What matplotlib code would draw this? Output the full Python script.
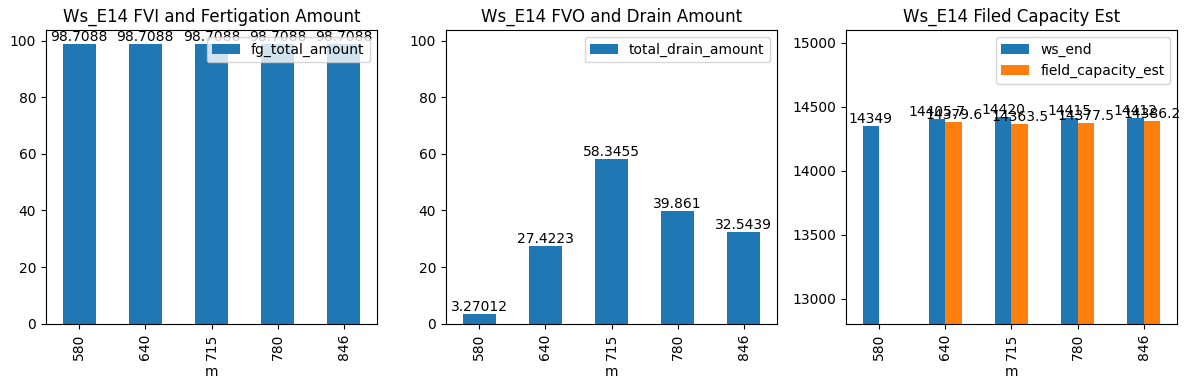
import numpy as np
import pandas as pd
import matplotlib.pyplot as plt

# data
m = [580, 640, 715, 780, 846]
fg_total_amount = [98.7088, 98.7088, 98.7088, 98.7088, 98.7088]
total_drain_amount = [3.27012, 27.4223, 58.3455, 39.861, 32.5439]
ws_end = [14349, 14405.7, 14420, 14415, 14412]
field_capacity_est = [np.nan, 14379.6, 14363.5, 14377.5, 14386.2]


def main():
    df_fg = pd.DataFrame({"fg_total_amount": fg_total_amount}, index=pd.Index(m, name="m"))
    df_dr = pd.DataFrame({"total_drain_amount": total_drain_amount}, index=pd.Index(m, name="m"))
    df_ws = pd.DataFrame({"ws_end": ws_end, "field_capacity_est": field_capacity_est},
                         index=pd.Index(m, name="m"))

    fig, axes = plt.subplots(1, 3, figsize=(11.89, 3.9), dpi=100)

    # 1) fertigation
    ax = axes[0]
    df_fg.plot(kind="bar", ax=ax)
    for c in ax.containers:
        ax.bar_label(c)
    ax.legend(loc="upper right")
    ax.set_title("Ws_E14 FVI and Fertigation Amount")
    ymax = ax.get_ylim()[1]

    # 2) drain
    ax = axes[1]
    df_dr.plot(kind="bar", ax=ax)
    for c in ax.containers:
        ax.bar_label(c)
    ax.set_ylim(0, ymax)
    ax.set_title("Ws_E14 FVO and Drain Amount")

    # 3) field capacity
    ax = axes[2]
    df_ws.plot(kind="bar", ax=ax)
    for c in ax.containers:
        ax.bar_label(c)
    ax.set_ylim(12806, 15098)
    ax.set_title("Ws_E14 Filed Capacity Est")

    fig.subplots_adjust(left=0.0387, right=0.9899, top=0.9223, bottom=0.170, wspace=0.2085)
    plt.savefig("out.png")
    plt.close(fig)


if __name__ == "__main__":
    main()
